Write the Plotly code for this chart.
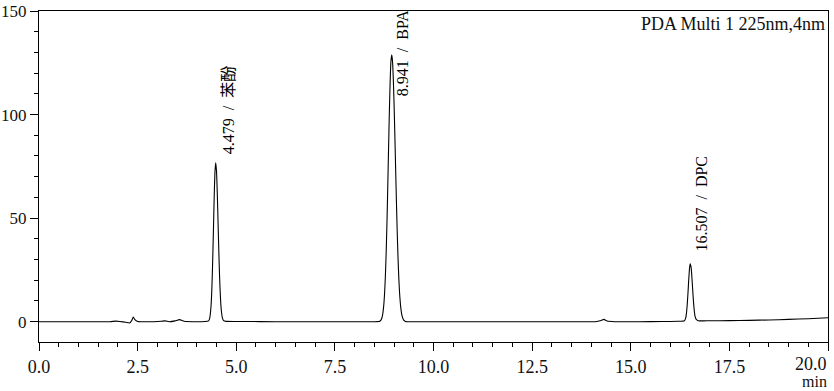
import plotly.graph_objects as go

# ---- data (time in min, signal in mAU) ----
time_min = [
    0.0, 1.0, 1.8, 1.95, 2.05, 2.2, 2.3, 2.35, 2.39, 2.43, 2.5, 2.6, 2.9, 3.1, 3.2, 3.3,
    3.45, 3.56, 3.68, 3.9, 4.2,
    4.30, 4.33, 4.36, 4.38, 4.40, 4.42, 4.44, 4.46, 4.479, 4.50, 4.52, 4.54, 4.56,
    4.58, 4.60, 4.62, 4.65, 4.68, 4.74,
    5.2, 6.0, 7.0, 8.0, 8.5,
    8.64, 8.68, 8.71, 8.74, 8.76, 8.78, 8.80, 8.82, 8.84, 8.86, 8.88, 8.90, 8.92, 8.941,
    8.96, 8.98, 9.00, 9.02, 9.04, 9.06, 9.08, 9.10, 9.12, 9.14, 9.17, 9.20, 9.24, 9.29,
    9.5, 10.5, 11.5, 12.5, 13.5, 14.1, 14.25, 14.32, 14.4, 14.6, 15.2, 15.8, 16.2,
    16.36, 16.39, 16.41, 16.43, 16.45, 16.47, 16.49, 16.507, 16.53, 16.55, 16.57,
    16.59, 16.61, 16.63, 16.66, 16.71,
    17.0, 17.5, 18.0, 18.5, 19.0, 19.5, 20.0,
]
signal_mau = [
    0.0, 0.0, 0.0, 0.3, 0.1, -0.3, -0.6, 0.6, 2.2, 1.0, 0.1, 0.0, 0.0, 0.2, 0.4, 0.0,
    0.4, 1.0, 0.2, 0.0, 0.1,
    0.4, 2.0, 7.3, 15.0, 27.5, 43.0, 59.5, 72.2, 76.7, 72.5, 61.5, 47.3, 32.8,
    20.4, 11.5, 5.8, 1.7, 0.5, 0.15,
    0.1, 0.0, 0.0, 0.0, 0.0,
    0.25, 1.2, 3.3, 8.1, 13.7, 21.9, 33.2, 47.5, 64.5, 82.7, 100.4, 115.3, 125.3, 128.8,
    126.0, 117.9, 105.5, 90.3, 74.0, 58.0, 43.5, 31.2, 21.4, 14.0, 6.9, 3.0, 0.9, 0.15,
    0.0, 0.0, 0.0, 0.0, 0.0, 0.0, 0.6, 1.1, 0.3, 0.0, 0.0, 0.1, 0.2,
    0.5, 1.6, 3.8, 7.8, 13.6, 20.3, 25.8, 28.0, 26.2, 21.5, 15.4,
    9.7, 5.4, 2.6, 1.1, 0.5,
    0.45, 0.5, 0.65, 0.85, 1.1, 1.45, 1.9,
]

peak_times = [4.479, 8.941, 16.507]
peak_heights = [76.7, 128.8, 28.0]
peak_names = ["苯酚", "BPA", "DPC"]

x_ticks = [0.0, 2.5, 5.0, 7.5, 10.0, 12.5, 15.0, 17.5, 20.0]
y_ticks = [0, 50, 100, 150]

# ---- figure ----
FONT = "Liberation Serif, serif"
CJK = "Noto Sans CJK SC"
SEP = "\u2002/\u2002"


def label_text(name):
    if any(ord(c) > 0x2E80 for c in name):
        return f"<span style='font-family:\"{CJK}\"'>{name}</span>"
    return name


fig = go.Figure()
fig.add_trace(go.Scatter(
    x=time_min, y=signal_mau, mode="lines",
    line=dict(color="black", width=1.1, shape="spline", smoothing=0.5),
    hoverinfo="skip", showlegend=False,
))

# peak labels (rotated) placed just above each peak, clamped near the top
label_y = [min(h + 3.0 + (2.0 if h < 40 else 0), 108.0) for h in peak_heights]
for t, h, name, ly in zip(peak_times, peak_heights, peak_names, label_y):
    fig.add_annotation(
        x=t, y=ly, xref="x", yref="y",
        text=f"{t:.3f}{SEP}" + label_text(name), textangle=-90,
        showarrow=False, xanchor="center", yanchor="bottom", xshift=11,
        font=dict(family=FONT, size=16, color="black"),
    )

fig.add_annotation(
    x=1, y=1, xref="paper", yref="paper", xanchor="right", yanchor="top",
    text="PDA Multi 1 225nm,4nm", showarrow=False, yshift=-1, xshift=-1,
    font=dict(family=FONT, size=18, color="#111"),
)
# last x tick label sits flush with the right end of the axis
fig.add_annotation(
    x=1, y=0, xref="paper", yref="paper", xanchor="right", yanchor="top",
    text=f"{x_ticks[-1]:.1f}", showarrow=False, yshift=-10, xshift=1,
    font=dict(family=FONT, size=18, color="#111"),
)
fig.add_annotation(
    x=1, y=0, xref="paper", yref="paper", xanchor="right", yanchor="top",
    text="min", showarrow=False, yshift=-29, xshift=1,
    font=dict(family=FONT, size=16, color="#111"),
)

fig.update_layout(
    width=834, height=391,
    margin=dict(l=39, r=6, t=11, b=49, autoexpand=False),
    paper_bgcolor="white", plot_bgcolor="white",
    font=dict(family=FONT, size=18, color="#111"),
    xaxis=dict(
        range=[0, 20], tickvals=x_ticks,
        ticktext=[f"{v:.1f}" for v in x_ticks[:-1]] + [""],
        automargin=False,
        showgrid=False, zeroline=False, showline=True, mirror=True,
        linecolor="black", linewidth=1.3,
        ticks="outside", ticklen=8, tickwidth=1, tickcolor="black",
        minor=dict(dtick=0.5, tick0=0, ticks="outside", ticklen=4, tickcolor="black", showgrid=False),
        tickfont=dict(family=FONT, size=18, color="#111"),
    ),
    yaxis=dict(
        range=[-9.8, 150], tickvals=y_ticks, ticktext=[str(v) for v in y_ticks],
        automargin=False,
        showgrid=False, zeroline=False, showline=True, mirror=True,
        linecolor="black", linewidth=1.3,
        ticks="outside", ticklen=8, tickwidth=1, tickcolor="black",
        minor=dict(dtick=10, tick0=0, ticks="outside", ticklen=4, tickcolor="black", showgrid=False),
        tickfont=dict(family=FONT, size=17, color="#111"),
    ),
)

fig.write_html("out.html")
